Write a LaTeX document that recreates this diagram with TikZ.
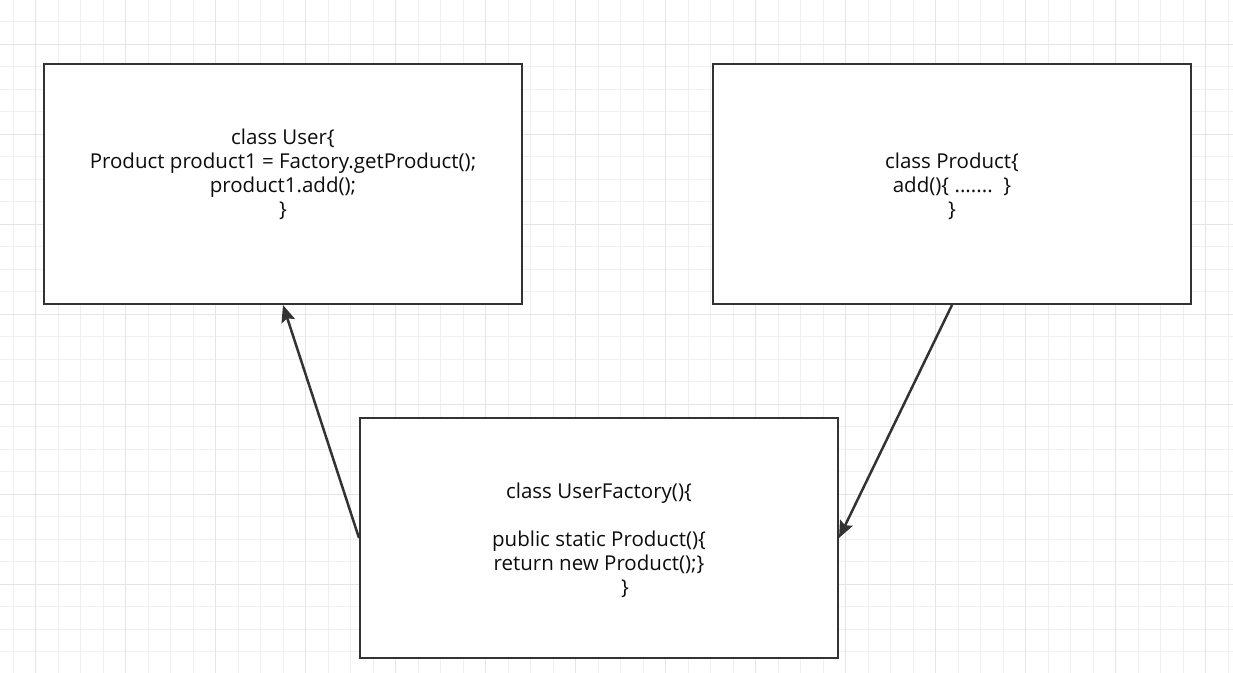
\documentclass[tikz,border=0pt]{standalone}
\usepackage{fontspec}
\setmainfont{Open Sans}
\usetikzlibrary{arrows.meta}
\begin{document}
\begin{tikzpicture}[x=1bp,y=-1bp,
  minorgrid/.style={draw=black!6,line width=1bp},
  majorgrid/.style={draw=black!10,line width=1bp},
  classbox/.style={draw=black!80,line width=2bp,fill=white,minimum width=478bp,minimum height=240bp,inner sep=0pt},
  code/.style={font=\fontsize{20.5bp}{24bp}\selectfont,align=center,inner sep=0pt,text=black!95},
  link/.style={draw=black!80,line width=2.5bp,-{Stealth[length=17bp,width=14bp,inset=3bp]}}]
  \useasboundingbox (0,0) rectangle (1233,673);
  \fill[white] (0,0) rectangle (1233,673);
  % background grid
  \foreach \k in {0,...,54} {
    \pgfmathsetmacro{\gx}{13.3+22.5*\k}
    \draw[minorgrid] (\gx,0) -- (\gx,673);
  }
  \foreach \k in {0,...,30} {
    \pgfmathsetmacro{\gy}{-0.8+22.5*\k}
    \draw[minorgrid] (0,\gy) -- (1233,\gy);
  }
  \foreach \k in {0,...,13} {
    \pgfmathsetmacro{\gx}{35.8+90*\k}
    \draw[majorgrid] (\gx,0) -- (\gx,673);
  }
  \foreach \k in {0,...,7} {
    \pgfmathsetmacro{\gy}{44.2+90*\k}
    \draw[majorgrid] (0,\gy) -- (1233,\gy);
  }
  % classes
  \node[classbox] (user) at (283,184) {};
  \node[classbox] (product) at (952,184) {};
  \node[classbox] (factory) at (599,538) {};
  \node[code] (usertext) at (283,174) {class User{\{}\\Product product1 = Factory.getProduct();\\product1.add();\\\}};
  \node[code] (producttext) at (952,186) {class Product{\{}\\add(){\{} .......\ \ \}\\\}};
  \node[code] (factorytext) at (599,540) {class UserFactory(){\{}\\[24bp]public static Product(){\{}\\return new Product();\}\\\hspace*{52bp}\}};
  % dependencies
  \draw[link] (factory.west) -- (user.south);
  \draw[link] (product.south) -- (factory.east);
\end{tikzpicture}
\end{document}
